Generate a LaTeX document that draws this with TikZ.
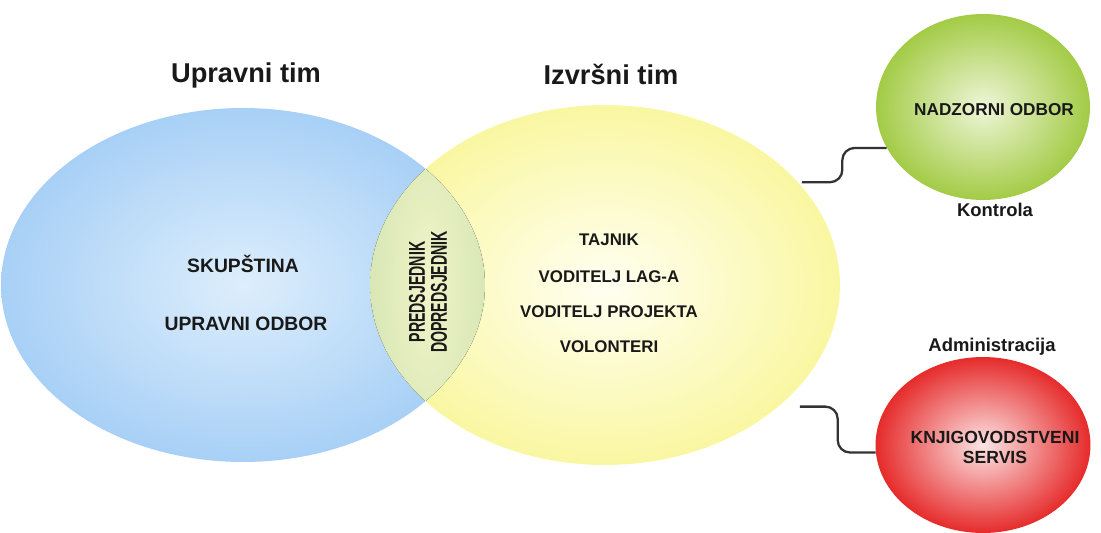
\documentclass[tikz,border=0pt]{standalone}
\usepackage{fontspec}
\setmainfont{Liberation Sans}
\usetikzlibrary{shapes.geometric}

\definecolor{plavaIn}{HTML}{DDEEFC}
\definecolor{plavaOut}{HTML}{A8D0F6}
\definecolor{zutaIn}{HTML}{FFFFF2}
\definecolor{zutaOut}{HTML}{FAF7A2}
\definecolor{lecaIn}{HTML}{F1F4C8}
\definecolor{lecaOut}{HTML}{D8E7B6}
\definecolor{zelenaIn}{HTML}{EEF6D8}
\definecolor{zelenaOut}{HTML}{A3CB46}
\definecolor{crvenaIn}{HTML}{FCE4E4}
\definecolor{crvenaOut}{HTML}{E62B2B}

\newcommand\uzak[1]{\scalebox{0.62}[1]{#1}}

\begin{document}
\begin{tikzpicture}
  [x=.02cm,y=-.02cm,
   every node/.style={font=\bfseries,text=black!90},
   krug/.style={ellipse,inner sep=0pt,shading=radial},
   veza/.style={draw=black!80,line width=1.3pt,rounded corners=7pt}]
  \useasboundingbox (0,0) rectangle (1101,533);

  \node[krug,minimum width=9.68cm,minimum height=7.08cm,
        inner color=plavaIn,outer color=plavaOut] (upr) at (243,285) {};
  \node[krug,minimum width=9.4cm,minimum height=7.2cm,
        inner color=zutaIn,outer color=zutaOut] (izv) at (605,285) {};
  \begin{scope}
    \clip (upr.center) ellipse [x radius=4.84cm,y radius=3.54cm];
    \clip (izv.center) ellipse [x radius=4.7cm,y radius=3.6cm];
    \fill[inner color=lecaIn,outer color=lecaOut] (370,105) rectangle (486,465);
  \end{scope}
  \node[krug,minimum width=4.28cm,minimum height=3.72cm,
        inner color=zelenaIn,outer color=zelenaOut] (nad) at (983,107) {};
  \node[krug,minimum width=4.3cm,minimum height=3.52cm,
        inner color=crvenaIn,outer color=crvenaOut] (knj) at (983,445) {};

  \draw[veza,shorten <=2pt] (izv.28) -- ++(44,0) |- (nad.203);
  \draw[veza,shorten <=12pt] (izv.325) -- ++(59,0) |- (knj.184);

  % naslovi
  \node[font=\bfseries\fontsize{15.5}{18}\selectfont] (tupr) at (246,75) {Upravni tim};
  \node[font=\bfseries\fontsize{15.5}{18}\selectfont] (tizv) at (611,74) {Izvršni tim};

  % upravni tim
  \node[font=\bfseries\fontsize{11}{13}\selectfont] (skup) at (243,264) {SKUPŠTINA};
  \node[font=\bfseries\fontsize{11}{13}\selectfont] (uodb) at (246,324) {UPRAVNI ODBOR};

  % presjek
  \node[rotate=90,align=center,font=\bfseries\fontsize{13}{12.5}\selectfont]
    (pred) at (428,292) {\uzak{PREDSJEDNIK}\\\uzak{DOPREDSJEDNIK}};

  % izvrsni tim
  \node[font=\bfseries\fontsize{9.6}{11}\selectfont] (tajn) at (609,240) {TAJNIK};
  \node[font=\bfseries\fontsize{9.6}{11}\selectfont] (vlag) at (609,277) {VODITELJ LAG-A};
  \node[font=\bfseries\fontsize{9.6}{11}\selectfont] (vpro) at (609,312) {VODITELJ PROJEKTA};
  \node[font=\bfseries\fontsize{9.6}{11}\selectfont] (volo) at (609,347) {VOLONTERI};

  % nadzor i administracija
  \node[font=\bfseries\fontsize{9.8}{11}\selectfont] (tnad) at (994,110) {NADZORNI ODBOR};
  \node[font=\bfseries\fontsize{10.5}{12}\selectfont] (kont) at (995,210) {Kontrola};
  \node[font=\bfseries\fontsize{10.5}{12}\selectfont] (admi) at (992,347) {Administracija};
  \node[align=center,font=\bfseries\fontsize{10}{11.4}\selectfont]
    (tknj) at (995,447) {KNJIGOVODSTVENI\\SERVIS};
\end{tikzpicture}
\end{document}
